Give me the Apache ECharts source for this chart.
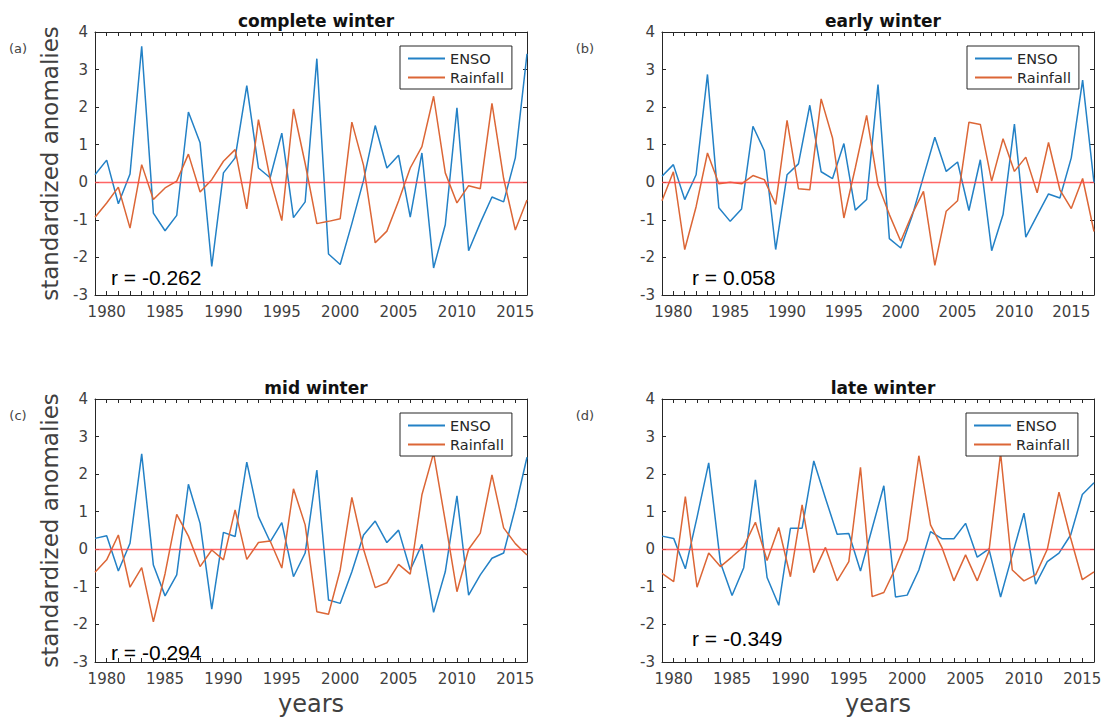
<!DOCTYPE html>
<html>
<head>
<meta charset="utf-8">
<script src="https://cdn.jsdelivr.net/npm/echarts@6/dist/echarts.min.js"></script>
<style>
  html, body { margin: 0; padding: 0; background: #ffffff; }
  #chart { width: 1107px; height: 723px; }
</style>
</head>
<body>
<div id="chart"></div>
<script>
// Winter years (1979-2016; the early-winter series runs to 2017)
const years = [1979, 1980, 1981, 1982, 1983, 1984, 1985, 1986, 1987, 1988,
  1989, 1990, 1991, 1992, 1993, 1994, 1995, 1996, 1997, 1998,
  1999, 2000, 2001, 2002, 2003, 2004, 2005, 2006, 2007, 2008,
  2009, 2010, 2011, 2012, 2013, 2014, 2015, 2016];
const yearsEarly = years.concat([2017]);

// Standardized anomalies, complete winter
const ensoComplete = [0.2, 0.59, -0.57, 0.22, 3.62, -0.82, -1.29, -0.88, 1.87, 1.05,
  -2.24, 0.25, 0.65, 2.57, 0.38, 0.12, 1.31, -0.94, -0.52, 3.29,
  -1.91, -2.19, -1.1, 0.05, 1.51, 0.38, 0.72, -0.93, 0.78, -2.28,
  -1.13, 1.98, -1.82, -1.08, -0.39, -0.52, 0.65, 3.42];
const rainComplete = [-0.93, -0.55, -0.13, -1.22, 0.47, -0.46, -0.15, 0.03, 0.75, -0.26,
  0.07, 0.56, 0.87, -0.71, 1.67, 0.1, -1.02, 1.95, 0.5, -1.1,
  -1.04, -0.97, 1.6, 0.45, -1.61, -1.3, -0.5, 0.38, 0.95, 2.29,
  0.25, -0.55, -0.09, -0.17, 2.1, 0.1, -1.27, -0.47];

// Early winter
const ensoEarly = [0.16, 0.47, -0.46, 0.2, 2.87, -0.68, -1.04, -0.71, 1.49, 0.84,
  -1.79, 0.2, 0.49, 2.05, 0.28, 0.1, 1.03, -0.74, -0.46, 2.6,
  -1.5, -1.75, -0.9, 0.15, 1.2, 0.29, 0.54, -0.75, 0.6, -1.82,
  -0.86, 1.55, -1.46, -0.88, -0.31, -0.42, 0.65, 2.72, -0.02];
const rainEarly = [-0.49, 0.28, -1.79, -0.65, 0.78, -0.04, 0.0, -0.04, 0.18, 0.07,
  -0.59, 1.65, -0.17, -0.2, 2.22, 1.18, -0.95, 0.38, 1.78, -0.06,
  -0.86, -1.57, -0.85, -0.24, -2.21, -0.77, -0.49, 1.6, 1.54, 0.03,
  1.16, 0.29, 0.67, -0.28, 1.06, -0.2, -0.7, 0.1, -1.31];

// Mid winter
const ensoMid = [0.29, 0.36, -0.58, 0.16, 2.54, -0.42, -1.24, -0.68, 1.73, 0.69,
  -1.59, 0.45, 0.34, 2.32, 0.87, 0.2, 0.71, -0.73, -0.1, 2.11,
  -1.35, -1.44, -0.6, 0.38, 0.75, 0.18, 0.51, -0.55, 0.13, -1.68,
  -0.6, 1.42, -1.22, -0.68, -0.24, -0.1, 1.1, 2.45];
const rainMid = [-0.61, -0.28, 0.38, -1.01, -0.49, -1.93, -0.65, 0.93, 0.35, -0.46,
  -0.02, -0.28, 1.05, -0.27, 0.18, 0.22, -0.5, 1.61, 0.65, -1.66,
  -1.73, -0.55, 1.38, 0.0, -1.02, -0.89, -0.4, -0.66, 1.45, 2.56,
  0.75, -1.13, 0.0, 0.43, 1.98, 0.57, 0.15, -0.15];

// Late winter
const ensoLate = [0.35, 0.29, -0.52, 0.85, 2.3, -0.35, -1.23, -0.49, 1.85, -0.75,
  -1.49, 0.56, 0.56, 2.35, 1.36, 0.4, 0.42, -0.58, 0.56, 1.69,
  -1.27, -1.22, -0.55, 0.47, 0.28, 0.28, 0.69, -0.21, 0.01, -1.27,
  -0.15, 0.96, -0.93, -0.33, -0.1, 0.38, 1.46, 1.77];
const rainLate = [-0.64, -0.86, 1.4, -1.01, -0.1, -0.46, -0.2, 0.07, 0.72, -0.3,
  0.58, -0.73, 1.18, -0.62, 0.05, -0.84, -0.33, 2.18, -1.26, -1.15,
  -0.5, 0.25, 2.49, 0.65, 0.03, -0.84, -0.15, -0.84, -0.06, 2.56,
  -0.55, -0.84, -0.68, 0.0, 1.52, 0.3, -0.81, -0.6];

const panelTitles = ['complete winter', 'early winter', 'mid winter', 'late winter'];
const panelTags = ['(a)', '(b)', '(c)', '(d)'];
const correlations = ['r = -0.262', 'r = 0.058', 'r = -0.294', 'r = -0.349'];
const seriesNames = ['ENSO', 'Rainfall'];
const yTicks = { min: -3, max: 4, step: 1 };

// Panel layout: plot box and annotation placement
const panels = [
  { left: 95,  top: 32,  years: years,      enso: ensoComplete, rain: rainComplete, legendLeft: 400, rX: 16, rY: 277, yName: true,  xName: false },
  { left: 662, top: 32,  years: yearsEarly, enso: ensoEarly,    rain: rainEarly,    legendLeft: 967, rX: 30, rY: 277, yName: false, xName: false },
  { left: 95,  top: 399, years: years,      enso: ensoMid,      rain: rainMid,      legendLeft: 400, rX: 16, rY: 652, yName: true,  xName: true },
  { left: 662, top: 399, years: years,      enso: ensoLate,     rain: rainLate,     legendLeft: 966, rX: 30, rY: 638, yName: false, xName: true }
];
const W = 432, H = 263;

const axisColor = '#262626';
const labelColor = '#404040';
const ensoColor = '#2381c6';
const rainColor = '#dc6636';
const font = 'DejaVu Sans';

const grid = [], xAxis = [], yAxis = [], series = [], legend = [], title = [], graphic = [];

panels.forEach((p, i) => {
  const xMin = p.years[0], xMax = p.years[p.years.length - 1];
  grid.push({ left: p.left, top: p.top, width: W, height: H, containLabel: false });

  const xBase = {
    gridIndex: i, type: 'value', min: xMin, max: xMax, interval: 1,
    axisLine: { show: true, onZero: false, lineStyle: { color: axisColor, width: 1 } },
    axisTick: { show: true, inside: true, length: 4, lineStyle: { color: axisColor } },
    splitLine: { show: false }
  };
  xAxis.push(Object.assign({}, xBase, {
    position: 'bottom',
    axisLabel: {
      show: true, margin: 9, fontSize: 15, fontFamily: font, color: labelColor,
      showMinLabel: true, showMaxLabel: true,
      formatter: v => (v % 5 === 0 ? String(v) : '')
    }
  }));
  xAxis.push(Object.assign({}, xBase, { position: 'top', axisLabel: { show: false } }));

  const yBase = {
    gridIndex: i, type: 'value', min: yTicks.min, max: yTicks.max, interval: yTicks.step,
    axisLine: { show: true, onZero: false, lineStyle: { color: axisColor, width: 1 } },
    axisTick: { show: true, inside: true, length: 4, lineStyle: { color: axisColor } },
    splitLine: { show: false }
  };
  yAxis.push(Object.assign({}, yBase, {
    position: 'left',
    axisLabel: { show: true, margin: 7, fontSize: 15, fontFamily: font, color: labelColor }
  }));
  yAxis.push(Object.assign({}, yBase, { position: 'right', axisLabel: { show: false } }));

  series.push({
    name: seriesNames[0], type: 'line', xAxisIndex: 2 * i, yAxisIndex: 2 * i,
    data: p.years.map((y, k) => [y, p.enso[k]]),
    showSymbol: false, symbol: 'none', silent: true,
    itemStyle: { color: ensoColor },
    lineStyle: { color: ensoColor, width: 1.5 }
  });
  series.push({
    name: seriesNames[1], type: 'line', xAxisIndex: 2 * i, yAxisIndex: 2 * i,
    data: p.years.map((y, k) => [y, p.rain[k]]),
    showSymbol: false, symbol: 'none', silent: true,
    itemStyle: { color: rainColor },
    lineStyle: { color: rainColor, width: 1.5 },
    markLine: {
      silent: true, symbol: 'none', label: { show: false },
      lineStyle: { color: '#ff4a4a', width: 1.4, type: 'solid', opacity: 0.85 },
      data: [{ yAxis: 0 }]
    }
  });

  legend.push({
    data: seriesNames, orient: 'vertical', left: p.legendLeft, top: p.top + 14,
    icon: 'rect', itemWidth: 37, itemHeight: 2, itemGap: 4, itemTextGap: 4,
    padding: [5, 8, 4, 8], borderColor: axisColor, borderWidth: 1, backgroundColor: '#ffffff',
    textStyle: { fontSize: 14.5, fontFamily: font, color: axisColor },
    selectedMode: false
  });

  title.push({
    text: panelTitles[i], left: p.left + W / 2, top: p.top - 25, textAlign: 'center',
    textStyle: { fontSize: 17, fontWeight: 'bold', fontFamily: font, color: '#111111' }
  });

  graphic.push({
    type: 'text', x: p.left - 77, y: p.top + 16,
    style: { text: panelTags[i], font: '13px "DejaVu Sans"', fill: '#444444',
      textAlign: 'center', textVerticalAlign: 'middle', align: 'center', verticalAlign: 'middle' }
  });
  graphic.push({
    type: 'text', x: p.left + p.rX, y: p.rY,
    style: { text: correlations[i], font: '21px "Liberation Sans"', fill: '#000000',
      textAlign: 'left', textVerticalAlign: 'middle', align: 'left', verticalAlign: 'middle' }
  });
  if (p.yName) {
    graphic.push({
      type: 'text', x: p.left - 45, y: p.top + H / 2, rotation: Math.PI / 2,
      style: { text: 'standardized anomalies', font: '23px "DejaVu Sans"', fill: '#404040',
        textAlign: 'center', textVerticalAlign: 'middle', align: 'center', verticalAlign: 'middle' }
    });
  }
  if (p.xName) {
    graphic.push({
      type: 'text', x: p.left + W / 2, y: p.top + H + 42,
      style: { text: 'years', font: '24px "DejaVu Sans"', fill: '#404040',
        textAlign: 'center', textVerticalAlign: 'middle', align: 'center', verticalAlign: 'middle' }
    });
  }
});

const chart = echarts.init(document.getElementById('chart'), null, { renderer: 'svg', width: 1107, height: 723 });
chart.setOption({
  animation: false,
  backgroundColor: '#ffffff',
  textStyle: { fontFamily: font },
  grid, xAxis, yAxis, series, legend, title, graphic
});
</script>
</body>
</html>
